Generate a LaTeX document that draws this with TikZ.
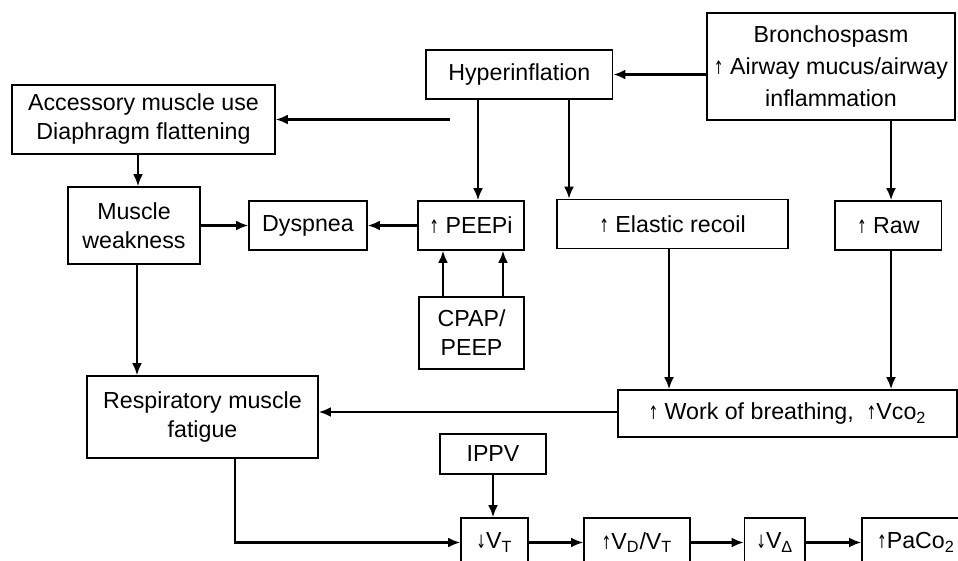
\documentclass[tikz,border=0pt]{standalone}
\usepackage{fontspec}
\setmainfont{Liberation Sans}
\newfontfamily\arrowfont{DejaVu Sans}
\usetikzlibrary{arrows.meta}

% thin up/down arrows in front of a quantity
\newcommand{\upar}{\scalebox{0.5}[0.8]{\arrowfont ↑}}
\newcommand{\dnar}{\scalebox{0.5}[0.8]{\arrowfont ↓}}

\begin{document}
\begin{tikzpicture} [x=0.5pt, y=-0.5pt, every node/.style={draw, line width=0.85pt, align=center, inner sep=0pt, font=\fontsize{11.6}{14.5}\selectfont},
    flow/.style={line width=1.1pt, -{Latex[length=6pt,width=5pt]}}]
    \useasboundingbox (0,0) rectangle (958,561);
    \clip (0,0) rectangle (958,561);

    % top row
    \node[minimum width=124pt, minimum height=53.5pt, font=\fontsize{11.6}{16}\selectfont] (bronch) at (831, 66.5) {Bronchospasm\\ \upar{} Airway mucus/airway\\ inflammation};
    \node[minimum width=93.3pt, minimum height=24.5pt] (hyper) at (519.3, 74.5) {Hyperinflation};
    \node[minimum width=131.5pt, minimum height=34.5pt] (access) at (143.5, 119.5) {Accessory muscle use\\ Diaphragm flattening};

    % middle row
    \node[minimum width=66pt, minimum height=38.5pt] (weak) at (134, 225.5) {Muscle\\ weakness};
    \node[minimum width=59pt, minimum height=24.5pt] (dysp) at (308, 225.5) {Dyspnea};
    \node[minimum width=53pt, minimum height=24.5pt] (peepi) at (471, 225.5) {\upar{} PEEPi};
    \node[minimum width=115.5pt, minimum height=24.5pt] (elastic) at (672.5, 224) {\upar{} Elastic recoil};
    \node[minimum width=53.3pt, minimum height=24.5pt] (raw) at (888.3, 225.5) {\upar{} Raw};
    \node[minimum width=52.5pt, minimum height=36pt] (cpap) at (471.5, 333) {CPAP/\\ PEEP};

    % fatigue and work of breathing
    \node[minimum width=115.5pt, minimum height=41pt] (fatigue) at (202.5, 417) {Respiratory muscle\\ fatigue};
    \node[minimum width=169.5pt, minimum height=23.5pt] (work) at (787.5, 413.5) {\upar{} Work of breathing,~~\upar{}Vco\textsubscript{2}};
    \node[minimum width=53pt, minimum height=20pt] (ippv) at (493, 454) {IPPV};

    % bottom row
    \node[minimum width=33.5pt, minimum height=24.5pt] (vt) at (494.5, 542.5) {\dnar{}V\textsubscript{T}};
    \node[minimum width=53pt, minimum height=24.5pt] (vdvt) at (637, 542.5) {\upar{}V\textsubscript{D}/V\textsubscript{T}};
    \node[minimum width=30.3pt, minimum height=24.5pt] (va) at (774.8, 542.5) {\dnar{}V\textsubscript{Δ}};
    \node[minimum width=54pt, minimum height=24.5pt] (paco) at (916, 542.5) {\upar{}PaCo\textsubscript{2}};

    % where the vertical and horizontal lines run
    \coordinate (hyperTap) at (450, 119.5);
    \coordinate (toPEEPi) at (478, 0);
    \coordinate (toElastic) at (569, 0);
    \coordinate (toRaw) at (891, 0);
    \coordinate (toWeak) at (138, 0);
    \coordinate (toFatigue) at (137, 0);
    \coordinate (cpapL) at (443, 0);
    \coordinate (cpapR) at (503, 0);
    \coordinate (toWork) at (669, 0);
    \coordinate (workLine) at (0, 412);
    \coordinate (fatigueDrop) at (235, 0);

    % draw top part
    \draw[flow] (bronch.west |- hyper.east) -- (hyper.east);
    \draw[flow] (hyperTap) -- (access.east);
    \draw[flow] (hyper.south -| toPEEPi) -- (peepi.north -| toPEEPi);
    \draw[flow] (hyper.south -| toElastic) -- (elastic.north -| toElastic);
    \draw[flow] (bronch.south -| toRaw) -- (raw.north -| toRaw);
    \draw[flow] (access.south -| toWeak) -- (weak.north -| toWeak);

    % draw middle part
    \draw[flow] (weak.east) -- (dysp.west);
    \draw[flow] (peepi.west) -- (dysp.east);
    \draw[flow] (cpap.north -| cpapL) -- (peepi.south -| cpapL);
    \draw[flow] (cpap.north -| cpapR) -- (peepi.south -| cpapR);
    \draw[flow] (weak.south -| toFatigue) -- (fatigue.north -| toFatigue);
    \draw[flow] (elastic.south -| toWork) -- (work.north -| toWork);
    \draw[flow] (raw.south -| toRaw) -- (work.north -| toRaw);
    \draw[flow] (work.west |- workLine) -- (fatigue.east |- workLine);

    % draw bottom chain
    \draw[flow] (ippv.south) -- (ippv.south |- vt.north);
    \draw[flow] (fatigue.south -| fatigueDrop) |- (vt.west);
    \draw[flow] (vt.east) -- (vdvt.west);
    \draw[flow] (vdvt.east) -- (va.west);
    \draw[flow] (va.east) -- (paco.west);

\end{tikzpicture}
\end{document}
